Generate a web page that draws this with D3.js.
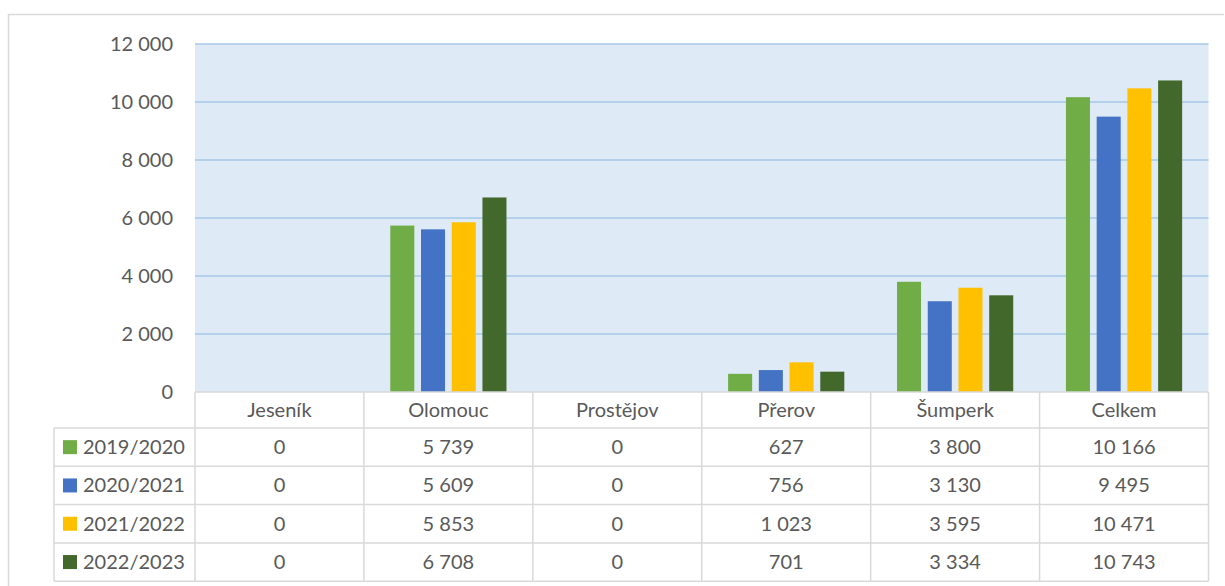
<!DOCTYPE html>
<html><head><meta charset="utf-8">
<script src="https://cdn.jsdelivr.net/npm/d3@7"></script>
<style>body{margin:0;background:#fff;}svg{display:block;}</style>
</head><body>
<svg id="c" width="1225" height="586"></svg>
<script>
const categories = ["Jeseník","Olomouc","Prostějov","Přerov","Šumperk","Celkem"];
const seriesNames = ["2019/2020","2020/2021","2021/2022","2022/2023"];
const s2019 = [0,5739,0,627,3800,10166];
const s2020 = [0,5609,0,756,3130,9495];
const s2021 = [0,5853,0,1023,3595,10471];
const s2022 = [0,6708,0,701,3334,10743];
const yTicks = [0,2000,4000,6000,8000,10000,12000];
const colors = ["#70ad47","#4472c4","#ffc000","#43682b"];
const seriesValues = [s2019,s2020,s2021,s2022];

const svg = d3.select("#c");
const font = "Lato, 'Open Sans', sans-serif";
const txt = "#595959";
const fmt = v => d3.format(",")(v).replace(/,/g," ");

// outer border
svg.append("path").attr("d","M8.5,586 V14.5 H1224").attr("fill","none").attr("stroke","#d9d9d9").attr("stroke-width",1.5);

const L=195, R=1208.5, T=44, B=392;
const x0 = d3.scaleBand().domain(categories).range([L,R]).paddingInner(0).paddingOuter(0);
const x1 = d3.scaleBand().domain(seriesNames).range([0,x0.bandwidth()]).paddingInner(0.218).paddingOuter(0.858);
const y = d3.scaleLinear().domain([0,12000]).range([B,T]);

svg.append("rect").attr("x",L).attr("y",T).attr("width",R-L).attr("height",B-T).attr("fill","#deeaf6");

// gridlines
svg.append("g").selectAll("line").data(yTicks.filter(d=>d>0)).join("line")
  .attr("x1",L).attr("x2",R).attr("y1",d=>y(d)).attr("y2",d=>y(d))
  .attr("stroke","#a7c7e7").attr("stroke-width",1.5);

// y axis
const yAxis = d3.axisLeft(y).tickValues(yTicks).tickFormat(fmt).tickSize(0).tickPadding(22);
const ya = svg.append("g").attr("transform",`translate(${L},0)`).call(yAxis);
ya.select(".domain").remove();
ya.selectAll("text").attr("font-family",font).attr("font-size",20).attr("fill",txt);

// bars
categories.forEach((c,ci)=>{
  seriesNames.forEach((s,si)=>{
    const v = seriesValues[si][ci];
    if(v<=0) return;
    svg.append("rect").attr("x",x0(c)+x1(s)).attr("width",x1.bandwidth())
      .attr("y",y(v)).attr("height",y(0)-y(v)).attr("fill",colors[si]);
  });
});

// data table
const rowH = 38.3;
const headTop = B, headBot = 428;
const legL = 54;
const tableBot = headBot + rowH*4;
const g = svg.append("g").attr("stroke","#d9d9d9").attr("stroke-width",1.5).attr("fill","none");
// horizontal lines
g.append("line").attr("x1",L).attr("x2",R).attr("y1",B).attr("y2",B);
for(let i=0;i<=4;i++){
  g.append("line").attr("x1",legL).attr("x2",R).attr("y1",headBot+rowH*i).attr("y2",headBot+rowH*i);
}
// vertical lines
g.append("line").attr("x1",legL).attr("x2",legL).attr("y1",headBot).attr("y2",tableBot);
categories.forEach(c=>{
  g.append("line").attr("x1",x0(c)).attr("x2",x0(c)).attr("y1",B).attr("y2",tableBot);
});
g.append("line").attr("x1",R).attr("x2",R).attr("y1",B).attr("y2",tableBot);

// header
svg.append("g").selectAll("text").data(categories).join("text")
  .attr("x",d=>x0(d)+x0.bandwidth()/2).attr("y",(headTop+headBot)/2).attr("dy","0.35em")
  .attr("text-anchor","middle").attr("font-family",font).attr("font-size",20).attr("fill",txt).text(d=>d);

seriesNames.forEach((s,si)=>{
  const cy = headBot + rowH*si + rowH/2;
  svg.append("rect").attr("x",63).attr("y",cy-7).attr("width",14).attr("height",14).attr("fill",colors[si]);
  svg.append("text").attr("x",83).attr("y",cy).attr("dy","0.35em").attr("font-family",font).attr("font-size",20).attr("fill",txt).text(s);
  categories.forEach((c,ci)=>{
    svg.append("text").attr("x",x0(c)+x0.bandwidth()/2).attr("y",cy).attr("dy","0.35em")
      .attr("text-anchor","middle").attr("font-family",font).attr("font-size",20).attr("fill",txt)
      .text(fmt(seriesValues[si][ci]));
  });
});
</script>
</body></html>
